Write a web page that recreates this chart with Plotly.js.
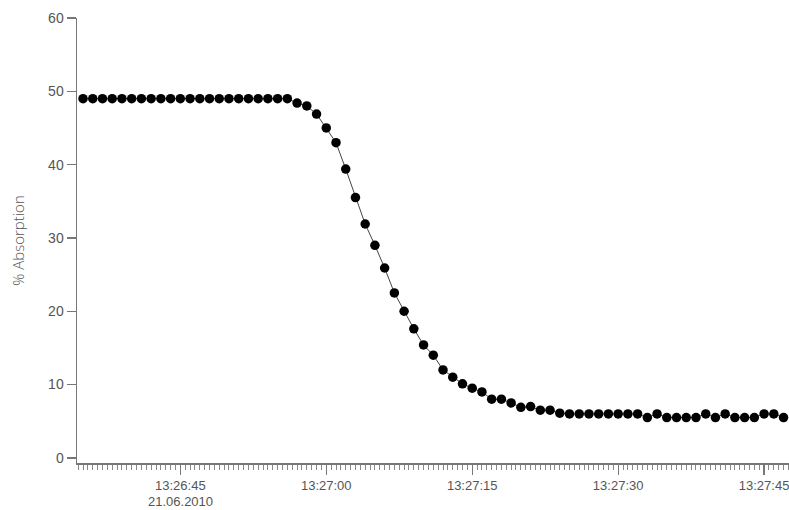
<!DOCTYPE html>
<html>
<head>
<meta charset="utf-8">
<script src="https://cdn.plot.ly/plotly-3.0.1.min.js"></script>
<style>html,body{margin:0;padding:0;background:#fff;}#chart{width:789px;height:510px;}</style>
</head>
<body>
<div id="chart"></div>
<script>
const dateStr = "2010-06-21";
const dateLabel = "21.06.2010";
const times = [
  "13:26:35","13:26:36","13:26:37","13:26:38","13:26:39","13:26:40","13:26:41","13:26:42","13:26:43","13:26:44",
  "13:26:45","13:26:46","13:26:47","13:26:48","13:26:49","13:26:50","13:26:51","13:26:52","13:26:53","13:26:54",
  "13:26:55","13:26:56","13:26:57","13:26:58","13:26:59","13:27:00","13:27:01","13:27:02","13:27:03","13:27:04",
  "13:27:05","13:27:06","13:27:07","13:27:08","13:27:09","13:27:10","13:27:11","13:27:12","13:27:13","13:27:14",
  "13:27:15","13:27:16","13:27:17","13:27:18","13:27:19","13:27:20","13:27:21","13:27:22","13:27:23","13:27:24",
  "13:27:25","13:27:26","13:27:27","13:27:28","13:27:29","13:27:30","13:27:31","13:27:32","13:27:33","13:27:34",
  "13:27:35","13:27:36","13:27:37","13:27:38","13:27:39","13:27:40","13:27:41","13:27:42","13:27:43","13:27:44",
  "13:27:45","13:27:46","13:27:47"
];
const absorption = [
  49,49,49,49,49,49,49,49,49,49,
  49,49,49,49,49,49,49,49,49,49,
  49,49,48.4,48.0,46.9,45.0,43.0,39.4,35.5,31.9,
  29.0,25.9,22.5,20.0,17.6,15.4,14.0,12.0,11.0,10.1,
  9.5,9.0,8.0,8.0,7.5,6.9,7.0,6.5,6.5,6.1,
  6.0,6.0,6.0,6.0,6.0,6.0,6.0,6.0,5.5,6.0,
  5.5,5.5,5.5,5.5,6.0,5.5,6.0,5.5,5.5,5.5,
  6.0,6.0,5.5
];
const xTickTimes = ["13:26:45","13:27:00","13:27:15","13:27:30","13:27:45"];
const yTicks = [0,10,20,30,40,50,60];
const yTitle = "% Absorption";

const x = times.map(t => dateStr + " " + t);
const yTickFont = {family: "Liberation Sans, Arial, sans-serif", size: 14, color: "#555"};
const xTickFont = {family: "Liberation Sans, Arial, sans-serif", size: 13, color: "#555"};

Plotly.newPlot("chart", [{
  type: "scatter",
  mode: "lines+markers",
  x: x,
  y: absorption,
  line: {color: "#444", width: 1},
  marker: {color: "#000", size: 9.5},
  hoverinfo: "skip"
}], {
  width: 789, height: 510,
  margin: {l: 77, r: 0, t: 18, b: 47},
  paper_bgcolor: "#fff", plot_bgcolor: "#fff",
  showlegend: false,
  xaxis: {
    type: "date",
    range: [dateStr + " 13:26:34.38", dateStr + " 13:27:47.56"],
    tickmode: "array",
    tickvals: xTickTimes.map(t => dateStr + " " + t),
    ticktext: xTickTimes,
    ticklabeloverflow: "allow",
    ticks: "outside", ticklen: 10, tickwidth: 1.3, tickcolor: "#777",
    minor: {ticks: "outside", dtick: 500, tick0: dateStr + " 13:26:45", ticklen: 5, tickwidth: 1, tickcolor: "#888", showgrid: false},
    showline: true, linecolor: "#777", linewidth: 1.5,
    showgrid: false, zeroline: false,
    tickfont: xTickFont
  },
  yaxis: {
    range: [-0.7, 60],
    tickmode: "array",
    tickvals: yTicks,
    ticks: "outside", ticklen: 9, tickwidth: 1.3, tickcolor: "#777",
    showline: true, linecolor: "#777", linewidth: 1.5,
    showgrid: false, zeroline: false,
    tickfont: yTickFont,
    title: {text: yTitle, standoff: 20, font: {family: "Open Sans, sans-serif", size: 15, color: "#555", weight: 300}}
  },
  annotations: [{
    text: dateLabel,
    xref: "x", x: dateStr + " " + xTickTimes[0],
    yref: "paper", y: 0, yanchor: "bottom", yshift: -47,
    borderpad: 0,
    showarrow: false,
    font: xTickFont
  }]
}, {staticPlot: true});
</script>
</body>
</html>
